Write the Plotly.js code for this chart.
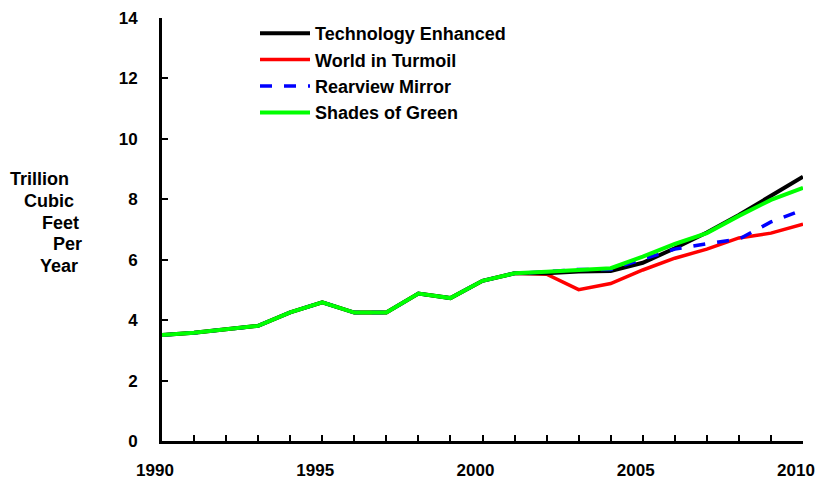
<!DOCTYPE html>
<html>
<head>
<meta charset="utf-8">
<script src="https://cdn.plot.ly/plotly-3.0.1.min.js"></script>
<style>html,body{margin:0;padding:0;background:#fff;}#chart{width:818px;height:485px;}</style>
</head>
<body>
<div id="chart"></div>
<script>
const years = [1990,1991,1992,1993,1994,1995,1996,1997,1998,1999,2000,2001,2002,2003,2004,2005,2006,2007,2008,2009,2010];
const history = [3.51,3.58,3.70,3.81,4.26,4.59,4.25,4.25,4.88,4.73,5.30,5.55];
const techEnhanced = [5.55,5.61,5.63,5.90,6.38,6.90,7.48,8.11,8.75];
const worldTurmoil = [5.52,5.01,5.21,5.66,6.05,6.35,6.72,6.88,7.18];
const rearviewMirror = [5.60,5.68,5.68,6.02,6.35,6.53,6.68,7.25,7.65];
const shadesGreen = [5.60,5.66,5.72,6.10,6.52,6.88,7.45,7.98,8.38];
const seriesNames = ['Technology Enhanced','World in Turmoil','Rearview Mirror','Shades of Green'];
const yTitleLines = ['Trillion','Cubic','Feet','Per','Year'];

const FONT = 'Arial, "Liberation Sans", sans-serif';
const mk = (name, proj, color, width, dash, rank) => ({
  x: years, y: history.concat(proj), type: 'scatter', mode: 'lines', name: name,
  line: {color: color, width: width, dash: dash}, legendrank: rank, legendgroup: name
});
const traces = [
  mk(seriesNames[1], worldTurmoil, '#ff0000', 3.5, 'solid', 2),
  mk(seriesNames[0], techEnhanced, '#000000', 4, 'solid', 1),
  mk(seriesNames[2], rearviewMirror, '#0000ff', 3.5, '12px,12px', 3),
  mk(seriesNames[3], shadesGreen, '#00ff00', 4, 'solid', 4)
];

const L = 162, R = 803, T = 18, B = 441;
const pw = R - L, ph = B - T;
const titleLeft = [8, 22, 40, 51, 38];
const titleY = [179, 201, 223, 244, 266];
const annotations = yTitleLines.map((t, i) => ({
  text: t, xref: 'paper', yref: 'paper', x: (titleLeft[i] - L) / pw, y: (B - titleY[i]) / ph,
  xanchor: 'left', yanchor: 'middle', showarrow: false,
  font: {family: FONT, size: 18, color: '#000', weight: 'bold'}
}));

const layout = {
  width: 818, height: 485,
  margin: {l: L, r: 818 - R, t: T, b: 485 - B, pad: 0},
  paper_bgcolor: '#fff', plot_bgcolor: '#fff',
  font: {family: FONT, size: 17, color: '#000', weight: 'bold'},
  showlegend: true,
  legend: {x: (255 - L) / pw, y: (B - 15) / ph, xanchor: 'left', yanchor: 'top',
           bgcolor: 'rgba(0,0,0,0)', font: {family: FONT, size: 18, color: '#000', weight: 'bold'},
           tracegroupgap: 0, itemwidth: 50},
  xaxis: {range: [1990, 2010], tickmode: 'linear', tick0: 1990, dtick: 5,
          showgrid: false, zeroline: false, showline: true, linecolor: '#000', linewidth: 3,
          ticks: 'inside', ticklen: 6, tickwidth: 2, tickcolor: '#000',
          minor: {dtick: 1, ticks: 'inside', ticklen: 6, tickwidth: 2, tickcolor: '#000', showgrid: false},
          ticklabelstandoff: 12, ticklabelshift: -7,
          tickfont: {family: FONT, size: 17, color: '#000', weight: 'bold'}},
  yaxis: {range: [0, 14], tickmode: 'linear', tick0: 0, dtick: 2,
          showgrid: false, zeroline: false, showline: true, linecolor: '#000', linewidth: 3,
          ticks: 'inside', ticklen: 6, tickwidth: 2, tickcolor: '#000',
          ticklabelstandoff: 18,
          tickfont: {family: FONT, size: 17, color: '#000', weight: 'bold'}},
  annotations: annotations
};
Plotly.newPlot('chart', traces, layout, {displayModeBar: false, staticPlot: true});
</script>
</body>
</html>
